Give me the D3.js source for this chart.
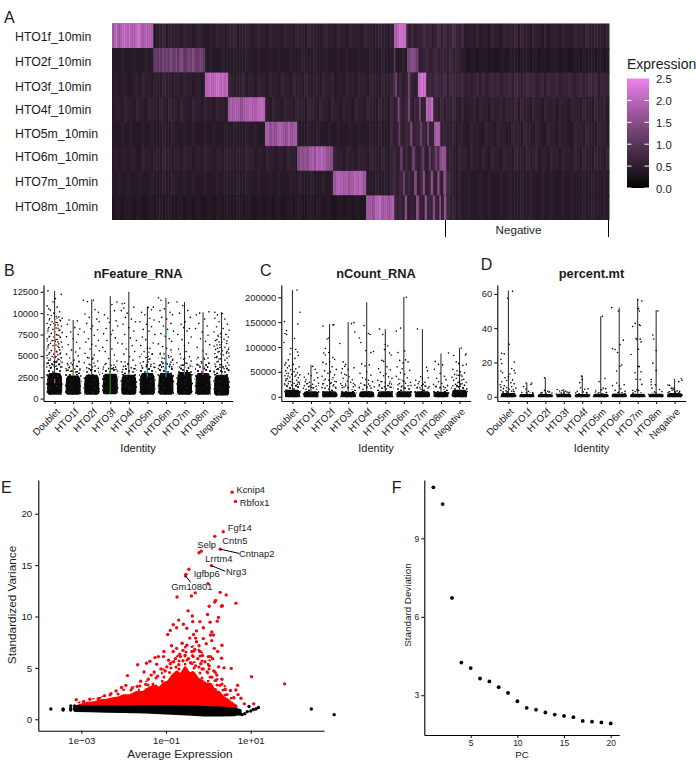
<!DOCTYPE html>
<html>
<head>
<meta charset="utf-8">
<script src="https://cdn.jsdelivr.net/npm/d3@7"></script>
<style>
body{margin:0;background:#fff;}
text{font-family:"Liberation Sans",Arial,sans-serif;fill:#1a1a1a;}
</style>
</head>
<body>
<script>
// ---- A: heatmap ----
var hashtags = ['HTO1f_10min','HTO2f_10min','HTO3f_10min','HTO4f_10min','HTO5m_10min','HTO6m_10min','HTO7m_10min','HTO8m_10min'];
var legendTicks = [0,0.5,1,1.5,2,2.5];
var negativeCells = [334,497];
// one base-36 digit per column, value = digit/10, from left to right over all cells
var heatBase = [
	'545464555455464556455554655456544546554556455654565546555465546554655545655465546555465545655465756857566867568575686574554645546554655564655465546455546554655465565546',
	'444544454445444544544454445445444544454445444544454445445444544454445444544454454445444544454445445468565675675665756544344344434334434443444344344344434433443434434434',
	'454554455465545546554554655455465545546554556455465546554655465546545546556455465546554655465568575686576567687685776675656757567675667576567675675766756676567567675666',
	'455465546554655465465546554655465546554655465546546554655465546554655465546554655465546554655475675765765675765756575464556465546556465564655465546556465546554655465564',
	'444544544454454445445444544544454454445445444544544454454445445444544544454454445445444544544475665765675756657565564554465544655465544655465546544655465544655465546554',
	'454554554465545546554554655455465545546554554655455465545546554655465546554655465546554655465467565756757656757565654655465546546554655465546556455465546554654655465546',
	'445445444544454445445444544544454445445444544544454445445444544544454445445444544544454445445467575675757656757567654544544454454445445444544544454454445445444544544454',
	'344344434433443443443344344344334434434433443443344344344334434433443443443344344344334434434567675756576567575657564544544454454445445444544544454454445445444544544454'
];
// bright runs per row: [from cell, to cell, digits spread evenly over the run]
var heatRuns = [
	[[0,41,'hjmijlmkjmjkkmnjijlkkj'],[282,294,'jkmnl']],
	[[41,93,'acbdbecdbfdcebdfcbdecfdbcedb'],[282,283,'a'],[295,306,'defgfed']],
	[[93,116,'jkmklmnkljk'],[283,285,'c'],[296,297.5,'d'],[306,314,'lnm']],
	[[116,153,'hjikjjgikjlkjikklj'],[285.7,287.3,'e'],[296,298,'d'],[307,308.7,'d'],[314,321,'kjl']],
	[[153,185,'ijfhgijiigjhii'],[286.7,288,'c'],[298,300.3,'d'],[308,310,'c'],[315,316.7,'d'],[322,328,'hji']],
	[[185,221,'egfhfijglikjghf'],[288,290.7,'b'],[300,302.7,'c'],[310,312,'b'],[316.7,318.7,'b'],[322.7,325.3,'c'],[327.3,334,'fhg']],
	[[221,254,'hjkjijhikjkjh'],[290.7,292.7,'c'],[302,304.7,'e'],[310.7,312.7,'f'],[318.7,320.7,'f'],[325.3,327.3,'f'],[331.3,334,'f']],
	[[254,282,'hijgkjlijkhij'],[292.7,294.7,'f'],[304,306.7,'f'],[312.7,314.7,'g'],[320.7,322.7,'f'],[327.3,328.7,'g'],[332,334,'g']]
];

// ---- B, C, D: violin panels ----
var identities = ['Doublet','HTO1f','HTO2f','HTO3f','HTO4f','HTO5m','HTO6m','HTO7m','HTO8m','Negative'];
var featureTicks = [0,2500,5000,7500,10000,12500];
var featureMax = [12600,9200,11600,12000,12500,10800,11800,11300,10100,10100];
var featureCoreTop = [3000,2700,2800,2900,2800,3000,3000,3100,3000,2800];
var featureCloudTop = [4500,3300,3500,3600,3600,3900,4200,4000,4200,4000];
var featureSparseTop = [9500,4500,5000,4200,4500,5500,5500,4800,5000,7500];
var featureCoreBottom = [450,450,450,500,450,450,450,450,450,350];
// thin coloured violin showing through: [identity, low, high]
var featureTint = [[0,1800,2300],[0,4500,9400],[1,2800,3400],[3,500,3300],[5,2500,3800],[6,2500,4800],[6,7400,8000],[7,2800,3900],[8,2800,4100]];
var featureDots = [
	[-8,12600,8,12200,1,11700,-2,11300,-9,10850,-7,10500,-5,10350,3,10700,6,10150,-1,10000,-8,9800,-4,9720,2,9600,5,9550,9,9400,-6,9330,0,9260,7,9100,-3,8990,3,8900,-9,8780,-5,8650,1,8620,8,8500,-7,8310,4,8240,-2,8100,6,8020,-8,7900,0,7850,9,7720,-4,7630,2,7500,5,7420,-6,7300,-1,7210,7,7150,-9,7000,3,6920,-3,6780,1,6700,8,6610,-5,6480,5,6400,-7,6290,-2,6200,4,6130,9,6040,-8,5920,0,5830,6,5700,-4,5610,2,5530,-6,5400,7,5320,-1,5210,4,5120,-9,5050,-3,4920,1,4850,8,4760,-5,4640,5,4580,-7,4490,3,4400,-1,4300,9,4250,-9,4120,6,4040,-2,3950,-6,3880,2,3800,7,3700,-4,3650],
	[-5,9200,5,9100,-7,8700,2,8300,8,8150,-3,7800,6,7500,-8,7250,0,7000,4,6600,-6,6300,8,5900,-2,5700,3,5450,-8,5200,6,5000,-4,4750,1,4500,7,4350,-7,4100,-1,3950,4,3800,-5,3600,2,3450,8,3350,-8,3300,-3,3200,5,3150],
	[-10,11500,-5,11350,2,11500,4,10400,8,10100,-8,9900,-3,9500,6,9300,9,9000,-6,8800,1,8500,-1,8200,7,8050,-9,7800,3,7400,-4,7000,8,6800,-7,6600,0,6350,5,6150,-2,5800,9,5600,-8,5300,3,5100,-5,4800,1,4600,7,4400,-9,4200,-3,4000,4,3800,-6,3600,8,3550,0,3400,-1,3300],
	[2,11000,8,11300,5,10300,-7,9800,-3,9400,7,9100,-1,8900,9,8500,-5,8200,3,8000,-8,7600,1,7500,6,7100,-4,6800,9,6500,-9,6000,2,5800,-6,5500,5,5100,-2,4700,8,4400,-5,4100,1,3900,-8,3700,4,3600,-2,3500,7,3400],
	[-8,11100,-5,11150,-6,10600,6,10700,-9,10300,-2,10000,-4,9500,3,9300,8,9000,-7,8700,0,8300,6,7900,-5,7500,2,7100,9,6800,-8,6400,4,6200,-3,5800,7,5500,-6,5200,1,4900,5,4500,-9,4300,-1,4100,8,3900,-4,3800,3,3600,6,3500,-7,3400],
	[7,10700,1,10650,5,10400,-7,10100,-3,9800,3,9400,8,9200,-9,9000,-1,8700,5,8400,-5,8100,2,7900,9,7500,-6,7200,-2,6900,7,6500,-8,6200,3,5900,-4,5500,0,5900,6,5200,-9,4900,2,4600,-5,4300,8,4100,-1,3950,-7,3850,4,3750,9,3650],
	[-9,11800,-6,11500,3,11200,-7,10300,-2,10500,5,10100,8,9800,-5,9500,1,9300,-8,9000,6,8800,-3,8500,2,8100,9,7900,-6,7600,-1,7300,4,7000,7,6700,-9,6400,-4,6100,1,5900,6,5700,-7,5200,3,5000,-2,4700,8,4500,-5,4300,0,4200,5,4000,-8,3850,-3,3750,7,3700],
	[-9,11300,-2,10900,4,10300,-6,10000,7,9500,1,9000,-4,8700,-1,8300,6,8200,3,7900,-8,7500,8,7200,-3,6900,5,6500,0,6200,-7,5800,2,5500,-5,5200,6,4900,-1,4600,8,4400,-9,4200,3,4100,-4,3900,7,3800,-6,3700],
	[-4,10000,7,10150,-8,9800,2,9300,-5,8800,5,8500,-9,8200,-1,7800,6,7400,-3,7000,3,6700,8,6300,-7,6000,0,5600,4,5200,-6,4800,2,4600,-2,4300,7,4100,-5,3900,1,3700],
	[-8,10100,-5,9800,1,9950,-8,9400,4,9300,-3,9000,7,8700,-6,8400,2,8200,9,8000,-9,7800,-1,7600,5,7500,-4,7300,8,7200,3,6950,-7,6800,0,6600,6,6450,-2,6300,-9,6150,4,6000,-5,5900,8,5750,1,5600,-3,5500,6,5350,-8,5250,2,5100,9,4950,-6,4800,-1,4650,4,4500,-4,4350,7,4200,-8,4050,0,3950,5,3800,-2,3650,3,3500,-6,3400,8,3300,-9,3200,1,3150]
];

var countTicks = [0,50000,100000,150000,200000];
var countMax = [214700,63700,146000,150000,190000,136000,201000,136000,87000,98000];
var countCoreTop = [14000,11000,11000,10000,11000,11000,11000,11000,10000,14000];
var countCloudTop = [24000,16000,17000,15000,16000,18000,18000,16000,15000,24000];
var countSparseTop = [50000,28000,35000,28000,28000,32000,35000,26000,24000,45000];
var countCoreBottom = [-1200,-1200,-1200,-1200,-1200,-1200,-1200,-1200,-1200,-1200];
var countDots = [
	[5.5,214700,9,170000,-9.5,151000,6.5,146000,-7,133000,-9,127000,-7,125000,2.5,117000,-10,109000,-2,97000,4,95000,6,90000,7,83000,-3,86000,3,77000,-5,74000,-8,68000,-9,64000,-4,62000,1,65000,-6,58000,4,56000,8,60000,-2,54000,-8,52000,2,50000,6,48000,-5,47000,-1,45000,9,44000,-9,42000,3,41000,-3,39000,7,38000,-6,36000,0,35000,5,33000,-8,32000,-2,30000,8,29000,2,27000,-5,26000,6,25000,-9,24000,-1,23000,4,22000],
	[2,61000,-8,39000,5,55000,-6,34000,7,48000,-3,46000,0,42000,8,38000,-7,30000,-2,29000,4,33000,-5,26000,2,25000,9,27000,-8,22000,6,21000,-3,20000,0,19000,-9,17000,3,18000],
	[-8,142000,-1,118000,4,144000,5,145000,-3,116000,-5,97000,-1,89000,-7,88000,-5,84000,4,79000,6,75000,0,70000,-8,69000,-4,66000,3,60000,8,55000,-6,52000,1,50000,-2,47000,6,44000,-9,41000,4,38000,-5,35000,-1,33000,8,30000,2,28000,-7,26000,5,24000,-3,22000,0,20000,7,19000,-9,18000],
	[-10,107000,-6,70000,-3,65000,4,147000,7,149000,8,130000,-4,61000,-7,56000,0,55000,7,58000,-8,48000,-4,45000,-2,43000,1,40000,-6,37000,5,34000,-1,31000,3,29000,-9,26000,8,24000,-3,22000,6,20000,0,19000,-7,18000],
	[-9,118000,-3,143000,-7,109000,2,127000,4,125000,5,89000,-1,93000,8,91000,-6,66000,-2,62000,3,64000,-8,47000,0,50000,5,43000,-5,38000,-1,35000,2,33000,7,30000,-7,27000,-3,24000,4,22000,9,20000,-9,19000,0,18000],
	[-7,136000,-3,125000,0,105000,3,102000,-1,95000,5,88000,7,84000,-4,73000,-2,71000,2,60000,-8,56000,6,54000,-6,49000,1,46000,-2,42000,4,40000,8,37000,-9,33000,-4,30000,0,28000,5,26000,-7,24000,3,22000,-1,20000,7,19000],
	[-9,132000,-4,138000,3,200000,-7,89000,1,92000,-5,73000,2,74000,-1,68000,5,70000,-8,60000,-2,56000,7,53000,-4,48000,1,45000,-9,41000,4,38000,-6,35000,-1,32000,8,29000,2,27000,-7,24000,5,22000,-3,20000,0,18000],
	[-6,136000,-2,40000,-8,33000,0,36000,5,59000,6,52000,-4,30000,3,29000,7,38000,-5,26000,1,25000,-9,23000,-1,22000,4,21000,8,20000,-6,19000,-3,18000],
	[-7,71000,-3,65000,2,64000,9,88000,-8,55000,-1,47000,4,41000,-5,37000,6,34000,-3,30000,1,27000,-9,25000,8,23000,-6,21000,3,20000,-1,19000,5,18000],
	[-7,83000,2,98000,8,86000,7,84000,-4,70000,-1,67000,4,63000,8,65000,-8,55000,-3,52000,1,50000,6,48000,-6,45000,-1,43000,3,41000,-9,39000,-4,37000,5,35000,-7,33000,0,31000,8,29000,-2,28000,3,26000,-5,25000,6,23000,-8,22000,1,21000,-3,20000]
];

var mtTicks = [0,20,40,60];
var mtMax = [62,8,11,4.5,12.3,47,52,57,50.5,10.5];
var mtCoreTop = [2.2,1.6,1.6,1.7,1.6,1.7,1.9,1.8,1.7,2.1];
var mtCloudTop = [3.4,2.4,2.4,2.6,2.4,2.6,2.8,2.6,2.6,3.2];
var mtCoreBottom = [-0.3,-0.3,-0.3,-0.3,-0.3,-0.3,-0.3,-0.3,-0.3,-0.3];
var mtDots = [
	[5,61.5,-1,57.5,1,30.6,-8,25.4,-5,25,-9,21.8,7,20.2,-8,19.4,-9,15,4,16.5,-7,14,7,15.3,2,13.3,8,13.8,0,11.7,-4,11,5,9.8,-2,9.5,-8,8.7,3,8.1,-10,7,7,7.5,-5,6.4,-9,5.6,-2,5.2,4,5.9,9,5,-6,4.7,1,4.4,6,4,-9,3.7,-3,3.5,4,3.2],
	[-1,8,6,8,5,7.2,-4,6,-1,4.5,2,3.2,-6,2.5,7,2.4,0,2.2],
	[-1,11,-1,3.7,3,3.2,-4,2.4,5,2.8,8,2.2,1,2],
	[-8,4.2,-5,3.3,-2,3.6,2,3.2,4,2.7,7,2.6,-3,2.1,6,2.1],
	[-1,12,0,10,-3,8.2,-2,5.2,3,4.4,7,4.6,-6,3.2,1,2.8,5,2.4,-8,2.2],
	[2,47,-2,8.7,5,10.8,3,5,6,4.7,1,4,-6,3.3,7,2.5,-3,2.2],
	[-9,52,-1,50,-8,28,-5,27.5,-2,25.8,1,30.4,5,33,3,18.5,1,17.8,-3,15,-8,6.5,-3,8,0,6.4,6,7,2,4.6,-5,3.7,7,3.1,-1,2.6],
	[0,56.7,5,55.8,1,51.4,2,50,-3,42.8,-6,41,2,42,3,41.6,-2,34,-1,33.4,3,33.6,4,32,-8,24.6,1,27.7,1,17.7,2,17.5,-3,14,4,14.5,-2,10.2,3,10,5,7.2,-6,3.6,-1,4,1,3.7,-3,3],
	[2,50,-4,36,-3,33.7,0,27,-4,19.6,0,15.2,-6,10,-6,8.6,-6,7,-1,7,-5,5,4,4.2,7,3,-2,2.8],
	[-8,6.8,-6,6.6,-4,5,-3,3.8,-2,5,8,10.5,9,9.6,5,8.8,-1,4.2,3,3.4,6,3.1,-6,2.9,1,2.7]
];

// ---- E: variable features ----
var varTicks = [0,5,10,15,20];
var exprTicks = [1e-3,1e-1,1e1];
var exprTickLabels = ['1e\u221203','1e\u221201','1e+01'];
var bandLog = [-3.15,-2.8,-2.4,-2,-1.5,-1,-0.5,-0.1,0.3,0.6,0.75];
var bandTop = [1.25,1.2,1.22,1.2,1.25,1.25,1.22,1.15,1.1,1,0.85];
var bandBottom = [0.85,0.82,0.78,0.75,0.7,0.62,0.52,0.42,0.42,0.45,0.55];
var cloudLog = [-3.12,-3,-2.85,-2.7,-2.55,-2.4,-2.25,-2.1,-2,-1.85,-1.7,-1.55,-1.4,-1.3,-1.15,-1.05,-0.95,-0.85,-0.75,-0.65,-0.55,-0.45,-0.35,-0.25,-0.15,-0.05,0.05,0.15,0.25,0.35,0.45,0.55,0.65];
var cloudTop = [1.2,1.4,1.55,1.6,1.8,1.85,2,2.1,2.3,2.3,2.6,2.6,3,3.2,3,3.5,3.6,4.2,4.6,4.3,5,4.4,4.5,3.9,3.7,3.4,3.4,2.7,2.6,2.1,1.9,1.5,1.3];
var cloudFuzzTop = [1.6,1.8,1.9,2.1,2.2,2.4,2.6,2.8,3,3,3.4,3.5,4,4.4,4.6,5,5.2,5.8,6.2,6.6,7.2,7.4,7.2,7,6.6,6.2,5.8,5,4.4,3.6,3,2.4,1.9];
var redDots = [
	[0.56,22.1],[0.64,21.2],[0.35,18.25],[0.15,17.8],[0.28,16.55],[-0.17,16.35],[-0.22,16.2],[0.07,14.95],[-0.46,14.6],[-0.53,14.1],[-0.54,13.95],[-0.01,13.2],[0.28,12.35],[0.42,12.1],[-0.31,12.3],[-0.4,12],[-0.74,11.9],[0.65,11.3],[0.17,11.55],[0.15,11.4],[0.02,11],[0.33,11.05],[0.31,11],[-0.48,10.55],[-0.38,10.05],[-0.02,10.2],[0.24,9.9],[0.21,9.55],[-0.7,9.65],[-0.83,9.2],[-0.59,9.25],[-0.37,9.5],[-0.2,9.5],[0.04,9.45],[-0.9,8.65],[-0.96,8.25],[-0.75,8.9],[-0.51,8.85],[-0.28,8.6],[-0.12,8.9],[0.08,8.5],[-0.35,8.25],[0.12,8.2],[0.05,8.2],[-0.12,7.85],[-0.3,7.9],[-0.28,7.55],[0.08,7.65],[-1.05,6.6],[-0.87,7.15],[-0.75,6.9],[-0.51,7.2],[-0.62,7.4],[-0.39,6.6],[-0.2,6.6],[0.32,7.2],[0,6.1],[0.05,6.1],[0.31,5.95],
	[-1.38,5.65],[-1.46,5.45],[-1.67,5.3],[-1.26,6],[-1.18,6.1],[-1.06,6.1],[-0.94,5.75],[-0.83,6.6],[-1.91,4.25],[-1.52,4.6],[-1.22,5.35],[0.24,5.1],[0.37,5],[0.54,4.95],[0.69,3.3],[0.65,2.85],[0.2,4.3],[0.85,1.5],[1.07,1.5],[1.02,4.15],[1.8,3.45],
	[-3.12,1.9],[-2.95,1.7],[-2.8,1.95],[-2.6,2],[-2.45,2.3],[-2.3,2.5],[-2.18,2.75],[-2.05,3.1],[-1.95,3.3],[-1.8,3.05],[-1.68,3.2],[-1.6,3.7],[-1.48,3.4],[-1.42,3.9],[-1.35,4.3],[-1.28,4.6],[-1.2,4.2],[-1.12,4.9],[-1.02,4.7],[-0.98,5.1],[-0.9,5.4],[-0.82,5.6],[-0.78,5.9],[-0.7,5.3],[-0.66,6.1],[-0.6,5.7],[-0.55,6.2],[-0.47,5.9],[-0.42,5.5],[-0.36,6.1],[-0.3,5.2],[-0.25,5.9],[-0.18,5.4],[-0.12,4.9],[-0.08,5.6],[-0.03,4.6],[0.02,5.2],[0.08,4.1],[0.13,4.7],[0.18,3.8],[0.27,3.3],[0.32,3.9],[0.4,2.9],[0.44,2.4],[0.52,2.8],[0.6,2.1],[0.7,2.4],[0.77,2.05],
	[-0.6,6.7],[-0.44,7.9],[-0.22,7.15],[-0.05,7.35],[0.14,6.9],[-0.14,6.2],[0.1,5.9],[0.22,6.6],[-0.68,6.3],[-0.32,6.8]
];
var blackDots = [
	[-3.72,1],[-3.43,1],[-3.43,0.9],[-3.25,1.3],[-3.25,1.05],[-3.25,0.9],[-3.16,1.3],[-3.16,1],[0.75,0.5],[0.8,0.45],[0.86,0.55],[0.92,0.75],[0.96,1.25],[1,0.8],[1.06,0.95],[1.12,1],[1.18,1.15],[2.43,1],[2.97,0.45]
];
var geneNames = ['Kcnip4','Rbfox1','Fgf14','Cntn5','Cntnap2','Selp','Lrrtm4','Nrg3','Igfbp6','Gm10801'];
var geneLog = [0.56,0.64,0.35,0.15,0.28,-0.17,-0.22,0.07,-0.46,-0.54];
var geneVar = [22.1,21.2,18.25,17.8,16.55,16.35,16.2,14.95,14.6,13.95];

// ---- F: elbow ----
var pcs = [1,2,3,4,5,6,7,8,9,10,11,12,13,14,15,16,17,18,19,20];
var pcSd = [10.95,10.31,6.72,4.25,4.04,3.64,3.53,3.31,3.09,2.77,2.52,2.45,2.34,2.26,2.21,2.16,2.02,1.99,1.96,1.92];
var pcTicksX = [5,10,15,20];
var pcTicksY = [3,6,9];

var font = '"Liberation Sans",Arial,sans-serif';
var svg = d3.select('body').append('svg')
	.attr('width',696)
	.attr('height',771)
	.style('display','block');
var defs = svg.append('defs');

// speckled fills for the clouds too dense to read point by point
function speckle(id,color,r,w,h,spots,back){
	var p = defs.append('pattern').attr('id',id)
		.attr('patternUnits','userSpaceOnUse')
		.attr('width',w).attr('height',h);
	if(back) p.append('rect').attr('width',w).attr('height',h).attr('fill',back);
	p.selectAll('circle').data(spots).enter().append('circle')
		.attr('cx',function(d){return d[0];})
		.attr('cy',function(d){return d[1];})
		.attr('r',r)
		.attr('fill',color);
}
var spotsA = [[1,1],[4,3],[8,0.5],[12,2],[15,4],[20,1],[2,6],[6,7],[10,5],[13,7.5],[18,6],[22,8],[0.5,10],[4.5,11],[8.5,9.5],[11,12],[16,10],[20,11.5],[3,14],[7,15],[10,16.5],[14,14],[18,15],[22,13]];
speckle('stipple','#000',0.9,23,17,spotsA);
speckle('sparse','#000',0.8,23,17,spotsA.filter(function(d,i){return i%3!=1;}));
speckle('corespeck','#fff',0.3,23,17,spotsA.filter(function(d,i){return i%3==0;}),'#0a0a0a');
speckle('redstipple','#f00',1.5,23,17,spotsA.filter(function(d,i){return i%2==0;}));

function panelLetter(t,x,y){
	svg.append('text').attr('x',x).attr('y',y).attr('font-size',16).text(t);
}
function midText(t,x,y,size,weight){
	return svg.append('text')
		.attr('x',x).attr('y',y)
		.attr('text-anchor','middle')
		.attr('dominant-baseline','central')
		.attr('font-size',size)
		.attr('font-weight',weight||'normal')
		.text(t);
}

// heatmap
var heatX = d3.scaleLinear().domain([0,497]).range([112,609]);
var heatY = d3.scaleBand().domain(hashtags).range([23.5,220]);
var heatColor = d3.scaleLinear().domain([0,2.5]).range(['black','violet']).interpolate(d3.interpolateLab);
function digitValue(c){ return parseInt(c,36)/10; }

var heat = svg.append('g').style('filter','blur(0.35px)');
hashtags.forEach(function(name,r){
	var row = heat.append('g').attr('transform','translate(0,'+heatY(name)+')');
	var base = heatBase[r];
	var cell = 497/base.length;
	row.selectAll('rect.base')
		.data(base.split(''))
		.enter()
		.append('rect')
		.attr('class','base')
		.attr('x',function(d,i){return heatX(i*cell);})
		.attr('width',heatX(cell)-heatX(0)+0.5)
		.attr('height',heatY.bandwidth()+(r<7?0.8:0))
		.attr('fill',function(d){return heatColor(digitValue(d));});
	heatRuns[r].forEach(function(run){
		var w = (run[1]-run[0])/run[2].length;
		row.selectAll(null)
			.data(run[2].split(''))
			.enter()
			.append('rect')
			.attr('x',function(d,i){return heatX(run[0]+i*w);})
			.attr('width',heatX(w)-heatX(0)+0.2)
			.attr('height',heatY.bandwidth())
			.attr('fill',function(d){return heatColor(digitValue(d));});
	});
});

var rowNudge = [1,2,2,1,0,-2,-1,-1];
svg.selectAll('text.row')
	.data(hashtags)
	.enter()
	.append('text')
	.attr('class','row')
	.attr('x',15)
	.attr('y',function(d,i){return heatY(d)+heatY.bandwidth()/2+rowNudge[i];})
	.attr('dominant-baseline','central')
	.attr('font-size',12.3)
	.attr('fill','#222')
	.text(function(d){return d;});

// bracket under the Negative cells
svg.selectAll('line.bracket')
	.data(negativeCells)
	.enter()
	.append('line')
	.attr('class','bracket')
	.attr('x1',function(d){return heatX(d)-0.5;})
	.attr('x2',function(d){return heatX(d)-0.5;})
	.attr('y1',220).attr('y2',237)
	.attr('stroke','#000');
midText('Negative',heatX(d3.mean(negativeCells))-9,229,11.6);

// legend
svg.append('text').attr('x',627).attr('y',69).attr('font-size',14).text('Expression');
var legY = d3.scaleLinear().domain([0,2.5]).range([188,78.5]);
var legDefs = defs.append('linearGradient')
	.attr('id','legGrad').attr('x1',0).attr('x2',0).attr('y1',1).attr('y2',0);
d3.range(0,2.51,0.25).forEach(function(v){
	legDefs.append('stop').attr('offset',(v/2.5*100)+'%').attr('stop-color',heatColor(v));
});
svg.append('rect').attr('x',627).attr('y',legY(2.5)).attr('width',22).attr('height',legY(0)-legY(2.5)).attr('fill','url(#legGrad)');
legendTicks.forEach(function(v){
	if(v<2.5){
		svg.append('line').attr('x1',627).attr('x2',631.5).attr('y1',legY(v)).attr('y2',legY(v)).attr('stroke','#fff');
		svg.append('line').attr('x1',644.5).attr('x2',649).attr('y1',legY(v)).attr('y2',legY(v)).attr('stroke','#fff');
	}
	svg.append('text').attr('x',656).attr('y',legY(v)+0.5).attr('dominant-baseline','central').attr('font-size',11.3).text(v.toFixed(1));
});

// violin panel
function styleAxis(g,size){
	g.selectAll('text').attr('font-size',size).attr('font-family',font).style('fill','#1a1a1a');
	g.selectAll('line').attr('stroke','#000');
	g.select('.domain').attr('stroke','#000').attr('stroke-width',1.1);
}
var coreFrac = [0,0.08,0.5,0.85,1];
var coreJit = [7,9,9,8.5,6.5];
var cloudFrac = [0,0.5,0.8,1];
var cloudJit = [9.5,10,9.5,7];

function violinPanel(opt){
	var x = d3.scalePoint().domain(identities).range([opt.left,opt.right]).padding(0.6);
	var y = d3.scaleLinear().domain(opt.domain).range([401,285]);
	var jit = d3.scaleLinear().domain([-10,10]).range([-0.45*x.step(),0.45*x.step()]);
	var g = svg.append('g');
	identities.forEach(function(name,i){
		var spread = function(v){return Math.abs(jit(v)-jit(0));};
		var shape = function(topValue,widths){
			return d3.area()
				.x0(function(d,k){return x(name)-spread(widths[k]);})
				.x1(function(d,k){return x(name)+spread(widths[k]);})
				.y(function(d){return y(opt.bottom[i]+d*(topValue-opt.bottom[i]));});
		};
		if(opt.sparse){
			g.append('path').datum(cloudFrac).attr('d',shape(opt.sparse[i],cloudJit)).attr('fill','url(#sparse)');
		}
		g.append('path').datum(cloudFrac).attr('d',shape(opt.cloud[i],cloudJit)).attr('fill','url(#stipple)');
		g.append('path').datum(coreFrac).attr('d',shape(opt.top[i],coreJit)).attr('fill','url(#corespeck)');
		g.append('line')
			.attr('x1',x(name)).attr('x2',x(name))
			.attr('y1',y(opt.top[i])).attr('y2',y(opt.max[i]))
			.attr('stroke','#222').attr('stroke-width',1);
		var flat = opt.dots[i];
		var pairs = d3.range(0,flat.length,2).map(function(k){return [flat[k],flat[k+1]];});
		g.selectAll(null)
			.data(pairs)
			.enter()
			.append('circle')
			.attr('cx',function(d){return x(name)+jit(d[0]);})
			.attr('cy',function(d){return y(d[1]);})
			.attr('r',0.8)
			.attr('fill','#000');
	});
	if(opt.tint){
		var hue = d3.scaleOrdinal().domain(d3.range(10))
			.range(['#F8766D','#D89000','#A3A500','#39B600','#00BF7D','#00BFC4','#00B0F6','#9590FF','#E76BF3','#FF62BC']);
		opt.tint.forEach(function(t){
			g.append('line')
				.attr('x1',x(identities[t[0]])).attr('x2',x(identities[t[0]]))
				.attr('y1',y(t[1])).attr('y2',y(t[2]))
				.attr('stroke',hue(t[0])).attr('stroke-width',1.3).attr('opacity',0.7);
		});
	}
	var yAxis = svg.append('g')
		.attr('transform','translate('+opt.left+',0)')
		.call(d3.axisLeft(y).tickValues(opt.ticks).tickFormat(d3.format('d')).tickSize(3).tickPadding(2).tickSizeOuter(0));
	styleAxis(yAxis,9.4);
	var xAxis = svg.append('g')
		.attr('transform','translate(0,401)')
		.call(d3.axisBottom(x).tickSize(3).tickPadding(2).tickSizeOuter(0));
	styleAxis(xAxis,9.8);
	xAxis.selectAll('text')
		.attr('text-anchor','end')
		.attr('dy','0.35em')
		.attr('transform','translate(3,9) rotate(-45)')
		.attr('y',0).attr('x',0);
	var mid = x('HTO4f')+x.step()/2;
	midText(opt.title,mid,273,12.8,'bold');
	midText('Identity',mid,447.7,11);
}

violinPanel({title:'nFeature_RNA',left:43.5,right:232.7,domain:[-281,13293],ticks:featureTicks,max:featureMax,top:featureCoreTop,cloud:featureCloudTop,sparse:featureSparseTop,bottom:featureCoreBottom,dots:featureDots,tint:featureTint});
violinPanel({title:'nCount_RNA',left:281.3,right:470.7,domain:[-8650,224700],ticks:countTicks,max:countMax,top:countCoreTop,cloud:countCloudTop,sparse:countSparseTop,bottom:countCoreBottom,dots:countDots});
violinPanel({title:'percent.mt',left:497.3,right:685.7,domain:[-2.5,65.2],ticks:mtTicks,max:mtMax,top:mtCoreTop,cloud:mtCloudTop,bottom:mtCoreBottom,dots:mtDots});

// E
var exprX = d3.scaleLog().domain([Math.pow(10,-4.016),Math.pow(10,2.73)]).range([38.3,324]);
var varY = d3.scaleLinear().domain([-1.11,23.28]).range([730.7,480]);
function fromLog(v){ return exprX(Math.pow(10,v)); }

svg.append('path').datum(cloudLog)
	.attr('d',d3.area()
		.x(function(d){return fromLog(d);})
		.y0(varY(1))
		.y1(function(d,i){return varY(cloudFuzzTop[i]);}))
	.attr('fill','url(#redstipple)');
svg.append('path').datum(cloudLog)
	.attr('d',d3.area()
		.x(function(d){return fromLog(d);})
		.y0(varY(1))
		.y1(function(d,i){return varY(cloudTop[i]);}))
	.attr('fill','#f00').attr('stroke','#f00').attr('stroke-width',3).attr('stroke-linejoin','round');
svg.selectAll('circle.red')
	.data(redDots)
	.enter()
	.append('circle')
	.attr('class','red')
	.attr('cx',function(d){return fromLog(d[0]);})
	.attr('cy',function(d){return varY(d[1]);})
	.attr('r',1.7)
	.attr('fill','#ee0a14');
svg.append('path').datum(bandLog)
	.attr('d',d3.area()
		.x(function(d){return fromLog(d);})
		.y0(function(d,i){return varY(bandBottom[i]);})
		.y1(function(d,i){return varY(bandTop[i]);}))
	.attr('fill','#000').attr('stroke','#000').attr('stroke-width',3).attr('stroke-linejoin','round');
svg.selectAll('circle.blk')
	.data(blackDots)
	.enter()
	.append('circle')
	.attr('class','blk')
	.attr('cx',function(d){return fromLog(d[0]);})
	.attr('cy',function(d){return varY(d[1]);})
	.attr('r',1.7)
	.attr('fill','#000');

// repelled labels: offset from the gene's point, and where the connector stops
var geneOffset = [[4.3,-2.8],[4.3,0.9],[4.6,-4],[7.6,4.4],[18.8,4.5],[-4,-7.2],[6.3,5.9],[14.7,6.1],[4.8,4.5],[-14.2,10.4]];
var geneLink = {'Cntnap2':[18.8,4.2],'Nrg3':[14,5.7],'Gm10801':[5.2,6.4]};
geneNames.forEach(function(n,i){
	var px = fromLog(geneLog[i]), py = varY(geneVar[i]);
	if(geneLink[n]){
		svg.append('line').attr('x1',px).attr('y1',py)
			.attr('x2',px+geneLink[n][0]).attr('y2',py+geneLink[n][1])
			.attr('stroke','#000');
	}
	svg.append('text')
		.attr('x',px+geneOffset[i][0]).attr('y',py+geneOffset[i][1])
		.attr('dominant-baseline','central')
		.attr('font-size',9.4)
		.text(n);
});

var eLeft = svg.append('g').attr('transform','translate(38.3,0)')
	.call(d3.axisLeft(varY).tickValues(varTicks).tickSize(3).tickPadding(3).tickSizeOuter(0));
styleAxis(eLeft,9.8);
var eBottom = svg.append('g').attr('transform','translate(0,730.7)')
	.call(d3.axisBottom(exprX).tickValues(exprTicks).tickFormat(function(d,i){return exprTickLabels[i];}).tickSize(3).tickPadding(3).tickSizeOuter(0));
styleAxis(eBottom,9.6);
midText('Average Expression',180,754,11.8);
midText('Standardized Variance',12,605,11.8).attr('transform','rotate(-90,12,605)');

// F
var pcX = d3.scaleLinear().domain([0.03,20.92]).range([424.3,619.3]);
var pcY = d3.scaleLinear().domain([1.48,11.23]).range([735,480]);
svg.selectAll('circle.pc')
	.data(pcs)
	.enter()
	.append('circle')
	.attr('class','pc')
	.attr('cx',function(d){return pcX(d);})
	.attr('cy',function(d,i){return pcY(pcSd[i]);})
	.attr('r',1.9)
	.attr('fill','#000');
var fLeft = svg.append('g').attr('transform','translate(424.3,0)')
	.call(d3.axisLeft(pcY).tickValues(pcTicksY).tickSize(3).tickPadding(2).tickSizeOuter(0));
styleAxis(fLeft,8.5);
var fBottom = svg.append('g').attr('transform','translate(0,735)')
	.call(d3.axisBottom(pcX).tickValues(pcTicksX).tickSize(3).tickPadding(2).tickSizeOuter(0));
styleAxis(fBottom,8.5);
midText('PC',522,754,9.8);
midText('Standard Deviation',407.7,605,9.8).attr('transform','rotate(-90,407.7,605)');

panelLetter('A',4,22.7);
panelLetter('B',4,275.7);
panelLetter('C',260,275.7);
panelLetter('D',480.7,269.7);
panelLetter('E',1,493.3);
panelLetter('F',391.7,492.7);
</script>
</body>
</html>
